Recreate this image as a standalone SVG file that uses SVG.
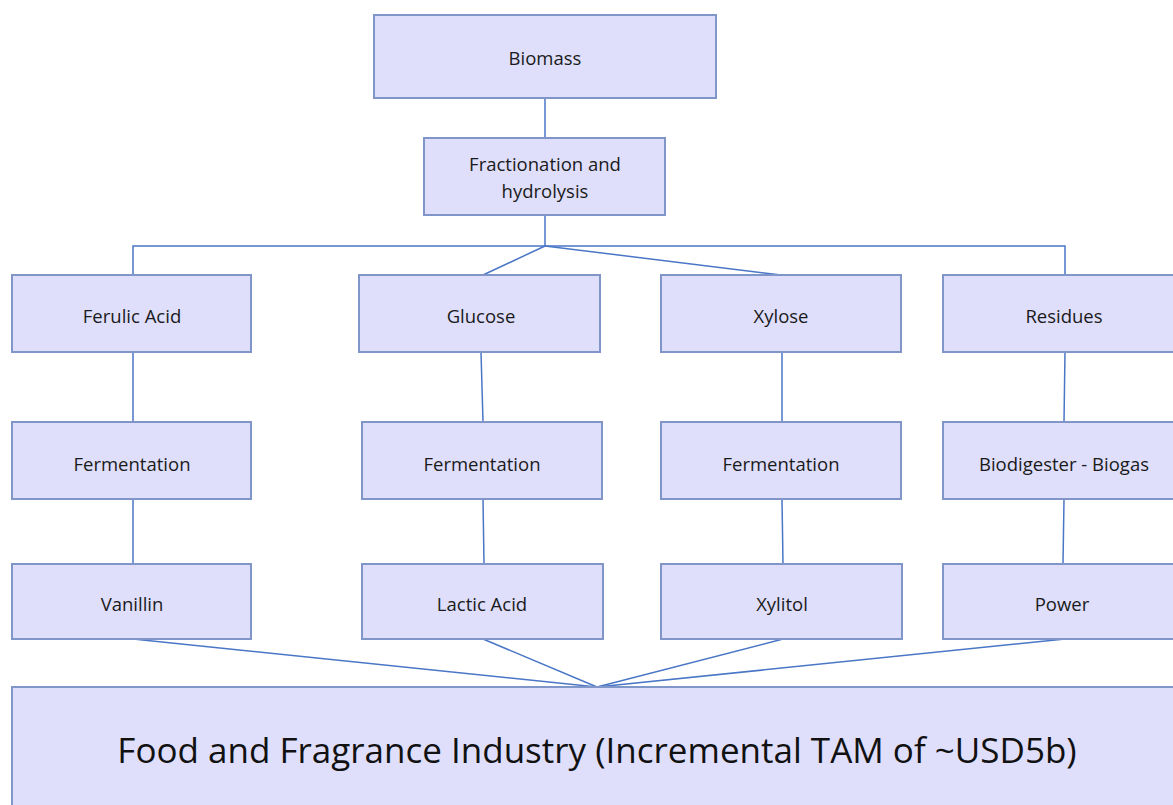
<svg xmlns="http://www.w3.org/2000/svg" width="1173" height="805" viewBox="0 0 1173 805">
<style>
.box{fill:#dfdffc;stroke:#8096c8;stroke-width:2}
.t{font-family:"Open Sans","Liberation Sans",sans-serif;font-size:18.5px;fill:#1a1a1a;text-anchor:middle;dominant-baseline:central}
.big{font-family:"Open Sans","Liberation Sans",sans-serif;font-size:35px;fill:#111;text-anchor:middle;dominant-baseline:central}
.c{stroke:#4a76c6;stroke-width:1.5;fill:none}
</style>
<rect width="1173" height="805" fill="#fff"/>
<g id="connectors">
<line class="c" x1="545" y1="98" x2="545" y2="138"/>
<line class="c" x1="545" y1="215" x2="545" y2="246"/>
<polyline class="c" points="133,275 133,246 1065,246 1065,275"/>
<line class="c" x1="545" y1="246" x2="483" y2="275"/>
<line class="c" x1="545" y1="246" x2="781" y2="275"/>
<line class="c" x1="133" y1="352" x2="133" y2="422"/>
<line class="c" x1="481" y1="352" x2="483" y2="422"/>
<line class="c" x1="782" y1="352" x2="782" y2="422"/>
<line class="c" x1="1065" y1="352" x2="1064" y2="422"/>
<line class="c" x1="133" y1="499" x2="133" y2="564"/>
<line class="c" x1="483" y1="499" x2="484" y2="564"/>
<line class="c" x1="782" y1="499" x2="783" y2="564"/>
<line class="c" x1="1064" y1="499" x2="1063" y2="564"/>
<line class="c" x1="133" y1="639" x2="597" y2="687"/>
<line class="c" x1="483" y1="639" x2="597" y2="687"/>
<line class="c" x1="783" y1="639" x2="597" y2="687"/>
<line class="c" x1="1065" y1="639" x2="597" y2="687"/>
</g>
<g id="biomass"><rect class="box" x="374" y="15" width="342" height="83"/><text class="t" x="545" y="57">Biomass</text></g>
<g id="fractionation"><rect class="box" x="424" y="138" width="241" height="77"/><text class="t" x="545" y="163">Fractionation and</text><text class="t" x="545" y="190">hydrolysis</text></g>
<g id="ferulic"><rect class="box" x="12" y="275" width="239" height="77"/><text class="t" x="132" y="315">Ferulic Acid</text></g>
<g id="glucose"><rect class="box" x="359" y="275" width="241" height="77"/><text class="t" x="481" y="315">Glucose</text></g>
<g id="xylose"><rect class="box" x="661" y="275" width="240" height="77"/><text class="t" x="781" y="315">Xylose</text></g>
<g id="residues"><rect class="box" x="943" y="275" width="240" height="77"/><text class="t" x="1064" y="315">Residues</text></g>
<g id="ferm1"><rect class="box" x="12" y="422" width="239" height="77"/><text class="t" x="132" y="463">Fermentation</text></g>
<g id="ferm2"><rect class="box" x="362" y="422" width="240" height="77"/><text class="t" x="482" y="463">Fermentation</text></g>
<g id="ferm3"><rect class="box" x="661" y="422" width="240" height="77"/><text class="t" x="781" y="463">Fermentation</text></g>
<g id="biodigester"><rect class="box" x="943" y="422" width="240" height="77"/><text class="t" x="1064" y="463">Biodigester - Biogas</text></g>
<g id="vanillin"><rect class="box" x="12" y="564" width="239" height="75"/><text class="t" x="132" y="603">Vanillin</text></g>
<g id="lactic"><rect class="box" x="362" y="564" width="241" height="75"/><text class="t" x="482" y="603">Lactic Acid</text></g>
<g id="xylitol"><rect class="box" x="661" y="564" width="241" height="75"/><text class="t" x="782" y="603">Xylitol</text></g>
<g id="power"><rect class="box" x="943" y="564" width="240" height="75"/><text class="t" x="1062" y="603">Power</text></g>
<g id="industry"><rect class="box" x="12" y="687" width="1175" height="130"/><text class="big" x="597" y="749">Food and Fragrance Industry (Incremental TAM of ~USD5b)</text></g>
</svg>
